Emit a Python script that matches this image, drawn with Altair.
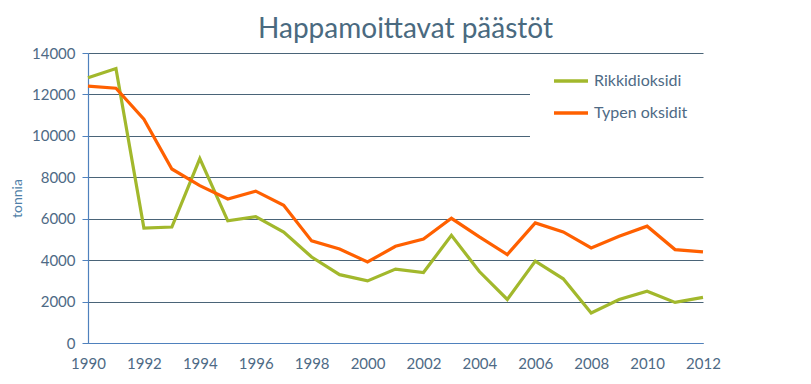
import altair as alt
import pandas as pd

years = list(range(1990, 2013))
rikkidioksidi = [12800, 13250, 5550, 5600, 8900, 5900, 6100, 5350, 4150, 3300, 3000, 3570,
                 3400, 5200, 3450, 2100, 3950, 3100, 1450, 2100, 2500, 1960, 2200]
typen_oksidit = [12400, 12300, 10800, 8400, 7600, 6950, 7330, 6650, 4930, 4540, 3910, 4670,
                 5020, 6020, 5120, 4270, 5800, 5360, 4590, 5150, 5640, 4510, 4400]
series_names = ["Rikkidioksidi", "Typen oksidit"]
series_colors = ["#A2B82C", "#FF6000"]
y_ticks = list(range(0, 14001, 2000))
x_ticks = list(range(1990, 2013, 2))

rows = []
for name, vals in zip(series_names, [rikkidioksidi, typen_oksidit]):
    for y, v in zip(years, vals):
        rows.append({"vuosi": y, "arvo": v, "sarja": name, "järjestys": series_names.index(name)})
df = pd.DataFrame(rows)

FONT = "Lato"
TXT = "#4E6A85"

chart = alt.Chart(df).mark_line(strokeWidth=3.2).encode(
    x=alt.X("vuosi:Q", scale=alt.Scale(domain=[1990, 2012], nice=False, zero=False),
            axis=alt.Axis(values=x_ticks, format="d", title=None, grid=False, ticks=False,
                          labelPadding=13, labelFlush=False, labelOverlap=False,
                          domainColor="#4F81BD", domainWidth=1.2,
                          labelFontSize=15, labelColor=TXT, labelFont=FONT)),
    y=alt.Y("arvo:Q", scale=alt.Scale(domain=[0, 14000], nice=False),
            axis=alt.Axis(values=y_ticks, format="d", title="tonnia", grid=True, gridColor="#4A6478",
                          gridWidth=1, tickColor="#4F81BD", tickSize=6, labelPadding=7,
                          labelFlush=False, labelOverlap=False,
                          domainColor="#4F81BD", domainWidth=1.2,
                          labelFontSize=15, labelColor=TXT, labelFont=FONT,
                          titleFontSize=14, titleColor="#4F7FA8", titleFont=FONT,
                          titleFontWeight="normal", titleX=-64, titleY=145)),
    color=alt.Color("sarja:N", scale=alt.Scale(domain=series_names, range=series_colors),
                    legend=alt.Legend(title=None, orient="none", legendX=442, legendY=5,
                                      fillColor="white", padding=16, symbolType="stroke",
                                      symbolSize=1156, symbolStrokeWidth=3.5, symbolOffset=6,
                                      clipHeight=14, labelFontSize=16, labelColor=TXT,
                                      labelFont=FONT, labelOffset=4, rowPadding=16)),
    order=alt.Order("järjestys:Q"),
).properties(
    width=615, height=290,
    title=alt.TitleParams("Happamoittavat päästöt", fontSize=28, font=FONT, color="#4A6A80",
                          fontWeight="normal", anchor="middle", dx=10, offset=2),
    autosize=alt.AutoSizeParams(type="none"),
    padding={"left": 80, "top": 45, "right": 100, "bottom": 30},
).configure_view(stroke=None)

chart.save("out.html", embed_options={"renderer": "svg", "actions": False})
